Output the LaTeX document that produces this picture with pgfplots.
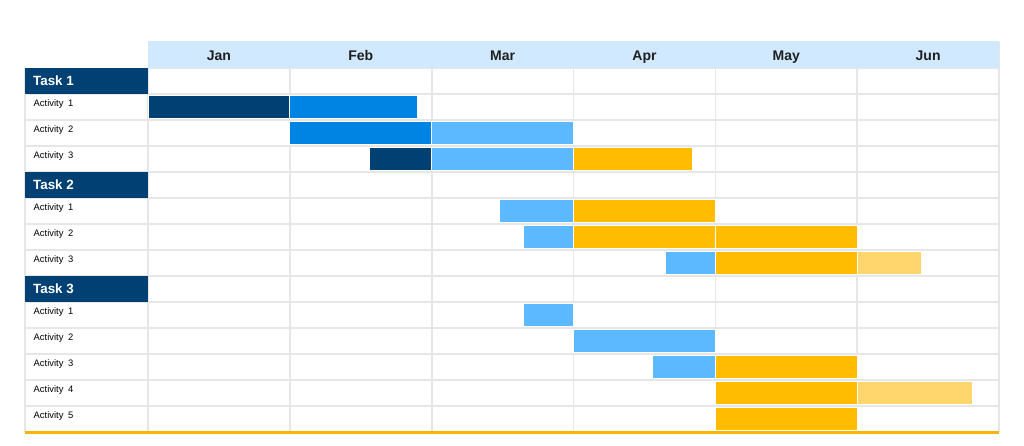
\documentclass[border=0pt]{standalone}
\usepackage{pgfplots}
\pgfplotsset{compat=1.18}
\usepackage{pgfplotstable}
\usepackage{fontspec}
\setmainfont{Liberation Sans}
\definecolor{cDark}{HTML}{004073}
\definecolor{cBlue}{HTML}{0084E3}
\definecolor{cLight}{HTML}{5CB8FF}
\definecolor{cAmber}{HTML}{FFBC00}
\definecolor{cLAmber}{HTML}{FFD66E}
\definecolor{cHead}{HTML}{D1E9FF}
\definecolor{cGrid}{HTML}{E6E6E6}
\definecolor{cLine}{HTML}{F7B500}
\pgfplotstableread{
row off  dark blue lblue amberA amberB lamber
2   0    1    0.90 0     0      0      0
3   1    0    1    1     0      0      0
4   1.56 0.44 0    1     0.84   0      0
6   2.48 0    0    0.52  1      0      0
7   2.65 0    0    0.35  1      1      0
8   3.65 0    0    0.35  1      0      0.45
10  2.65 0    0    0.35  0      0      0
11  3    0    0    1     0      0      0
12  3.56 0    0    0.44  1      0      0
13  4    0    0    0     1      0      0.81
14  4    0    0    0     1      0      0
}\gantt
\begin{document}
\begin{tikzpicture}
\begin{axis}[
  x=70.9pt, y=13pt, y dir=reverse,
  xmin=-0.867, xmax=6, ymin=-0.5, ymax=14.5,
  clip=false,
  xbar stacked, bar width=0.88,
  axis line style={draw=none},
  major tick length=0,
  xtick={-0.867,0,1,2,3,4,5,6},
  ytick={-0.5,0.5,...,14.5},
  xticklabels={}, yticklabels={},
  grid=major,
  major grid style={color=cGrid, line width=0.8pt},
]
% white over empty corner, header band
\fill[white] (axis cs:-0.95,-0.6) rectangle (axis cs:0,0.5);
\fill[cHead] (axis cs:0,-0.53) rectangle (axis cs:6,0.5);
\draw[white, line width=0.8pt] (axis cs:1,-0.5) -- (axis cs:1,0.5);
\draw[white, line width=0.8pt] (axis cs:2,-0.5) -- (axis cs:2,0.5);
\draw[white, line width=0.8pt] (axis cs:3,-0.5) -- (axis cs:3,0.5);
\draw[white, line width=0.8pt] (axis cs:4,-0.5) -- (axis cs:4,0.5);
\draw[white, line width=0.8pt] (axis cs:5,-0.5) -- (axis cs:5,0.5);
% task cells
\fill[cDark] (axis cs:-0.867,0.5) rectangle (axis cs:0,1.5);
\fill[cDark] (axis cs:-0.867,4.5) rectangle (axis cs:0,5.5);
\fill[cDark] (axis cs:-0.867,8.5) rectangle (axis cs:0,9.5);
% anchor points for header / task texts
\coordinate (m1) at (axis cs:0.5,0);
\coordinate (m2) at (axis cs:1.5,0);
\coordinate (m3) at (axis cs:2.5,0);
\coordinate (m4) at (axis cs:3.5,0);
\coordinate (m5) at (axis cs:4.5,0);
\coordinate (m6) at (axis cs:5.5,0);
\coordinate (t1) at (axis cs:-0.86,1);
\coordinate (t2) at (axis cs:-0.86,5);
\coordinate (t3) at (axis cs:-0.86,9);
% activity labels
\node[anchor=west, font=\fontsize{4.7}{6}\selectfont] at (axis cs:-0.856,1.88) {Activity\enspace1};
\node[anchor=west, font=\fontsize{4.7}{6}\selectfont] at (axis cs:-0.856,2.88) {Activity\enspace2};
\node[anchor=west, font=\fontsize{4.7}{6}\selectfont] at (axis cs:-0.856,3.88) {Activity\enspace3};
\node[anchor=west, font=\fontsize{4.7}{6}\selectfont] at (axis cs:-0.856,5.88) {Activity\enspace1};
\node[anchor=west, font=\fontsize{4.7}{6}\selectfont] at (axis cs:-0.856,6.88) {Activity\enspace2};
\node[anchor=west, font=\fontsize{4.7}{6}\selectfont] at (axis cs:-0.856,7.88) {Activity\enspace3};
\node[anchor=west, font=\fontsize{4.7}{6}\selectfont] at (axis cs:-0.856,9.88) {Activity\enspace1};
\node[anchor=west, font=\fontsize{4.7}{6}\selectfont] at (axis cs:-0.856,10.88) {Activity\enspace2};
\node[anchor=west, font=\fontsize{4.7}{6}\selectfont] at (axis cs:-0.856,11.88) {Activity\enspace3};
\node[anchor=west, font=\fontsize{4.7}{6}\selectfont] at (axis cs:-0.856,12.88) {Activity\enspace4};
\node[anchor=west, font=\fontsize{4.7}{6}\selectfont] at (axis cs:-0.856,13.88) {Activity\enspace5};
% bars
\addplot[draw=none, fill=none, forget plot] table[x=off, y=row] {\gantt};
\addplot[fill=cDark, draw=white, line width=0.5pt] table[x=dark, y=row] {\gantt};
\addplot[fill=cBlue, draw=white, line width=0.5pt] table[x=blue, y=row] {\gantt};
\addplot[fill=cLight, draw=white, line width=0.5pt] table[x=lblue, y=row] {\gantt};
\addplot[fill=cAmber, draw=white, line width=0.5pt] table[x=amberA, y=row] {\gantt};
\addplot[fill=cAmber, draw=white, line width=0.5pt] table[x=amberB, y=row] {\gantt};
\addplot[fill=cLAmber, draw=white, line width=0.5pt] table[x=lamber, y=row] {\gantt};
% bottom line
\draw[cLine, line width=1.5pt] (axis cs:-0.867,14.5) -- (axis cs:6,14.5);
% page extent
\path (axis cs:-1.0437,-2.115) rectangle (axis cs:6.176,14.96);
\end{axis}
\tikzset{mon/.style={font=\bfseries\fontsize{7}{8}\selectfont, text=black!88, text height=5pt, text depth=0pt}}
\node[mon] at (m1) {Jan};
\node[mon] at (m2) {Feb};
\node[mon] at (m3) {Mar};
\node[mon] at (m4) {Apr};
\node[mon] at (m5) {May};
\node[mon] at (m6) {Jun};
\tikzset{tsk/.style={anchor=west, text=white, font=\bfseries\fontsize{6.7}{8}\selectfont}}
\node[tsk] at (t1) {Task 1};
\node[tsk] at (t2) {Task 2};
\node[tsk] at (t3) {Task 3};
\end{tikzpicture}
\end{document}
